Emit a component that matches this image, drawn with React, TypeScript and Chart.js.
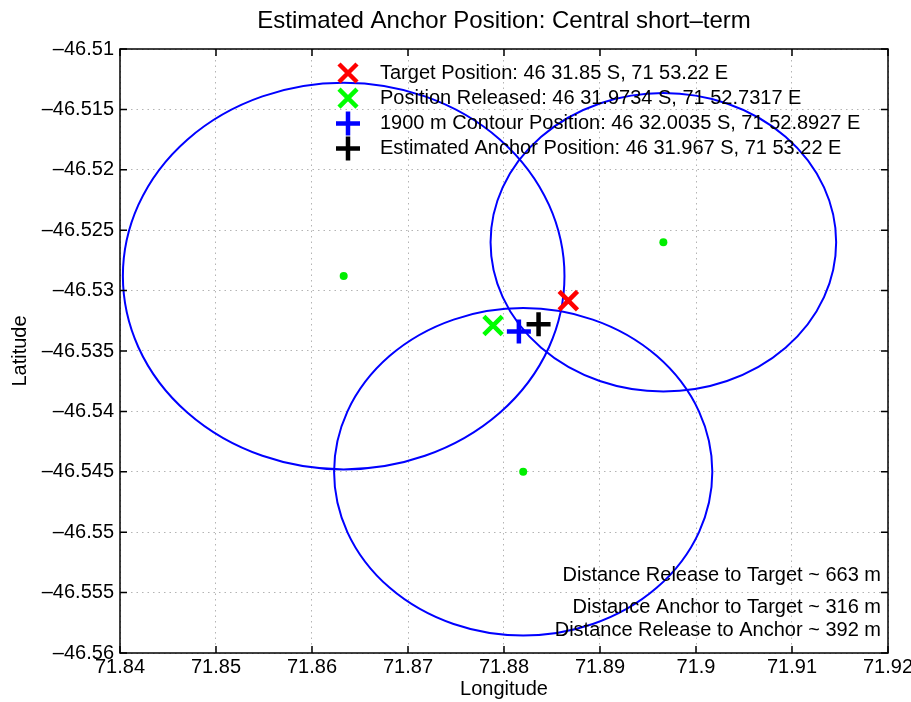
import React, { useEffect, useRef } from 'react';
import { Chart, registerables } from 'chart.js';

Chart.register(...registerables);

const FONT = "'Liberation Sans', Arial, Helvetica, sans-serif";

const titleText = 'Estimated Anchor Position: Central short\u2013term';
const xAxisTitle = 'Longitude';
const yAxisTitle = 'Latitude';

const xTickValues = [71.84, 71.85, 71.86, 71.87, 71.88, 71.89, 71.9, 71.91, 71.92];
const xTickLabels = ['71.84', '71.85', '71.86', '71.87', '71.88', '71.89', '71.9', '71.91', '71.92'];
const yTickValues = [-46.51, -46.515, -46.52, -46.525, -46.53, -46.535, -46.54, -46.545, -46.55, -46.555, -46.56];
const yTickLabels = ['\u201346.51', '\u201346.515', '\u201346.52', '\u201346.525', '\u201346.53', '\u201346.535', '\u201346.54', '\u201346.545', '\u201346.55', '\u201346.555', '\u201346.56'];

// 1900 m range contours (centre + semi-axes in degrees)
const contourLon = [71.8633, 71.8966, 71.882];
const contourLat = [-46.5288, -46.526, -46.545];
const contourRadiusLon = [0.023, 0.018, 0.0197];
const contourRadiusLat = [0.016, 0.01235, 0.01355];

// position markers
const markerLabels = [
  'Target Position: 46 31.85 S, 71 53.22 E',
  'Position Released: 46 31.9734 S, 71 52.7317 E',
  '1900 m Contour Position: 46 32.0035 S, 71 52.8927 E',
  'Estimated Anchor Position: 46 31.967 S, 71 53.22 E',
];
const markerLon = [71.8867, 71.87886, 71.88155, 71.8836];
const markerLat = [-46.53083, -46.53289, -46.53339, -46.53278];
const markerColors = ['#ff0000', '#00ff00', '#0000ff', '#000000'];
const markerStyles = ['crossRot', 'crossRot', 'cross', 'cross'];

const distanceNotes = [
  'Distance Release to Target ~ 663 m',
  'Distance Anchor to Target ~ 316 m',
  'Distance Release to Anchor ~ 392 m',
];
const distanceOffsets = [78, 46, 23];

const contourPlugin = {
  id: 'contours',
  beforeDatasetsDraw(chart: any) {
    const { ctx, chartArea: a, scales } = chart;
    const x = scales.x;
    const y = scales.y;
    ctx.save();
    ctx.beginPath();
    ctx.rect(a.left, a.top, a.right - a.left, a.bottom - a.top);
    ctx.clip();
    ctx.strokeStyle = '#0000ff';
    ctx.lineWidth = 2;
    contourLon.forEach((lon, i) => {
      const cx = x.getPixelForValue(lon);
      const cy = y.getPixelForValue(contourLat[i]);
      const rx = Math.abs(x.getPixelForValue(lon + contourRadiusLon[i]) - cx);
      const ry = Math.abs(y.getPixelForValue(contourLat[i] + contourRadiusLat[i]) - cy);
      ctx.beginPath();
      ctx.ellipse(cx, cy, rx, ry, 0, 0, Math.PI * 2);
      ctx.stroke();
    });
    ctx.restore();
  },
};

const framePlugin = {
  id: 'frame',
  afterDatasetsDraw(chart: any) {
    const { ctx, chartArea: a, scales } = chart;
    const x = scales.x;
    const y = scales.y;
    ctx.save();
    ctx.strokeStyle = '#000';
    ctx.lineWidth = 1.5;
    ctx.strokeRect(a.left, a.top, a.right - a.left, a.bottom - a.top);
    ctx.beginPath();
    x.ticks.forEach((t: any) => {
      const px = x.getPixelForValue(t.value);
      ctx.moveTo(px, a.bottom);
      ctx.lineTo(px, a.bottom - 7);
      ctx.moveTo(px, a.top);
      ctx.lineTo(px, a.top + 7);
    });
    y.ticks.forEach((t: any) => {
      const py = y.getPixelForValue(t.value);
      ctx.moveTo(a.left, py);
      ctx.lineTo(a.left + 7, py);
      ctx.moveTo(a.right, py);
      ctx.lineTo(a.right - 7, py);
    });
    ctx.stroke();
    ctx.restore();
  },
};

const annotationPlugin = {
  id: 'annotations',
  afterDraw(chart: any) {
    const { ctx, chartArea: a } = chart;
    ctx.save();
    // title centred over the plot area
    ctx.fillStyle = '#000';
    ctx.font = `24px ${FONT}`;
    ctx.textAlign = 'center';
    ctx.textBaseline = 'middle';
    ctx.fillText(titleText, (a.left + a.right) / 2, 21);

    ctx.font = `20px ${FONT}`;
    markerLabels.forEach((label, i) => {
      const cx = a.left + 228;
      const cy = a.top + 24 + i * 25.2;
      ctx.strokeStyle = markerColors[i];
      ctx.lineWidth = 4.5;
      ctx.beginPath();
      if (markerStyles[i] === 'crossRot') {
        const r = 9;
        ctx.moveTo(cx - r, cy - r);
        ctx.lineTo(cx + r, cy + r);
        ctx.moveTo(cx + r, cy - r);
        ctx.lineTo(cx - r, cy + r);
      } else {
        const r = 12;
        ctx.moveTo(cx - r, cy);
        ctx.lineTo(cx + r, cy);
        ctx.moveTo(cx, cy - r);
        ctx.lineTo(cx, cy + r);
      }
      ctx.stroke();
      ctx.fillStyle = '#000';
      ctx.textAlign = 'left';
      ctx.fillText(label, a.left + 260, cy);
    });
    ctx.textAlign = 'right';
    distanceNotes.forEach((note, i) => {
      ctx.fillText(note, a.right - 7, a.bottom - distanceOffsets[i]);
    });
    ctx.restore();
  },
};

export default function App() {
  const canvasRef = useRef<HTMLCanvasElement | null>(null);

  useEffect(() => {
    if (!canvasRef.current) return;
    const centreData = contourLon.map((lon, i) => ({ x: lon, y: contourLat[i] }));
    const markerSets = markerLabels.map((label, i) => ({
      label,
      data: [{ x: markerLon[i], y: markerLat[i] }],
      pointStyle: markerStyles[i],
      pointRadius: markerStyles[i] === 'cross' ? 12 : 13,
      borderColor: markerColors[i],
      backgroundColor: markerColors[i],
      borderWidth: 4.5,
      showLine: false,
    }));
    const chart = new Chart(canvasRef.current, {
      type: 'scatter',
      data: {
        datasets: [
          {
            label: 'Contour centres',
            data: centreData,
            pointStyle: 'circle',
            pointRadius: 4,
            backgroundColor: '#00ee00',
            borderColor: '#00ee00',
            borderWidth: 0,
            showLine: false,
          },
          ...markerSets,
        ],
      } as any,
      options: {
        animation: false,
        responsive: false,
        devicePixelRatio: 1,
        layout: { padding: { left: 0, right: 23, top: 49, bottom: 0 } },
        plugins: {
          legend: { display: false },
          tooltip: { enabled: false },
          title: { display: false },
        },
        scales: {
          x: {
            type: 'linear',
            position: 'bottom',
            min: 71.84,
            max: 71.92,
            afterBuildTicks: (s: any) => {
              s.ticks = xTickValues.map((value) => ({ value }));
            },
            afterFit: (s: any) => {
              s.height = 49;
              s.paddingLeft = 0;
              s.paddingRight = 0;
            },
            ticks: {
              callback: (_v: any, i: number) => xTickLabels[i],
              color: '#000',
              font: { family: FONT, size: 20 },
              padding: 2,
              maxRotation: 0,
              autoSkip: false,
            },
            grid: { color: '#b4b4b4', lineWidth: 1, drawTicks: false },
            border: { display: false, dash: [1.5, 4] },
            title: {
              display: true,
              text: xAxisTitle,
              color: '#000',
              font: { family: FONT, size: 20 },
              padding: { top: 0, bottom: 1 },
            },
          },
          y: {
            type: 'linear',
            position: 'left',
            min: -46.56,
            max: -46.51,
            afterBuildTicks: (s: any) => {
              s.ticks = yTickValues.map((value) => ({ value }));
            },
            afterFit: (s: any) => {
              s.width = 120;
              s.paddingTop = 0;
              s.paddingBottom = 0;
            },
            ticks: {
              callback: (_v: any, i: number) => yTickLabels[i],
              color: '#000',
              font: { family: FONT, size: 20 },
              padding: 6,
              autoSkip: false,
            },
            grid: { color: '#b4b4b4', lineWidth: 1, drawTicks: false },
            border: { display: false, dash: [1.5, 4] },
            title: {
              display: true,
              text: yAxisTitle,
              color: '#000',
              font: { family: FONT, size: 20 },
              padding: { top: 8, bottom: 0 },
            },
          },
        },
      } as any,
      plugins: [contourPlugin, framePlugin, annotationPlugin],
    });
    return () => chart.destroy();
  }, []);

  return (
    <div style={{ position: 'fixed', left: 0, top: 0, width: 911, height: 702, background: '#fff' }}>
      <canvas ref={canvasRef} width={911} height={702} style={{ display: 'block' }} />
    </div>
  );
}
